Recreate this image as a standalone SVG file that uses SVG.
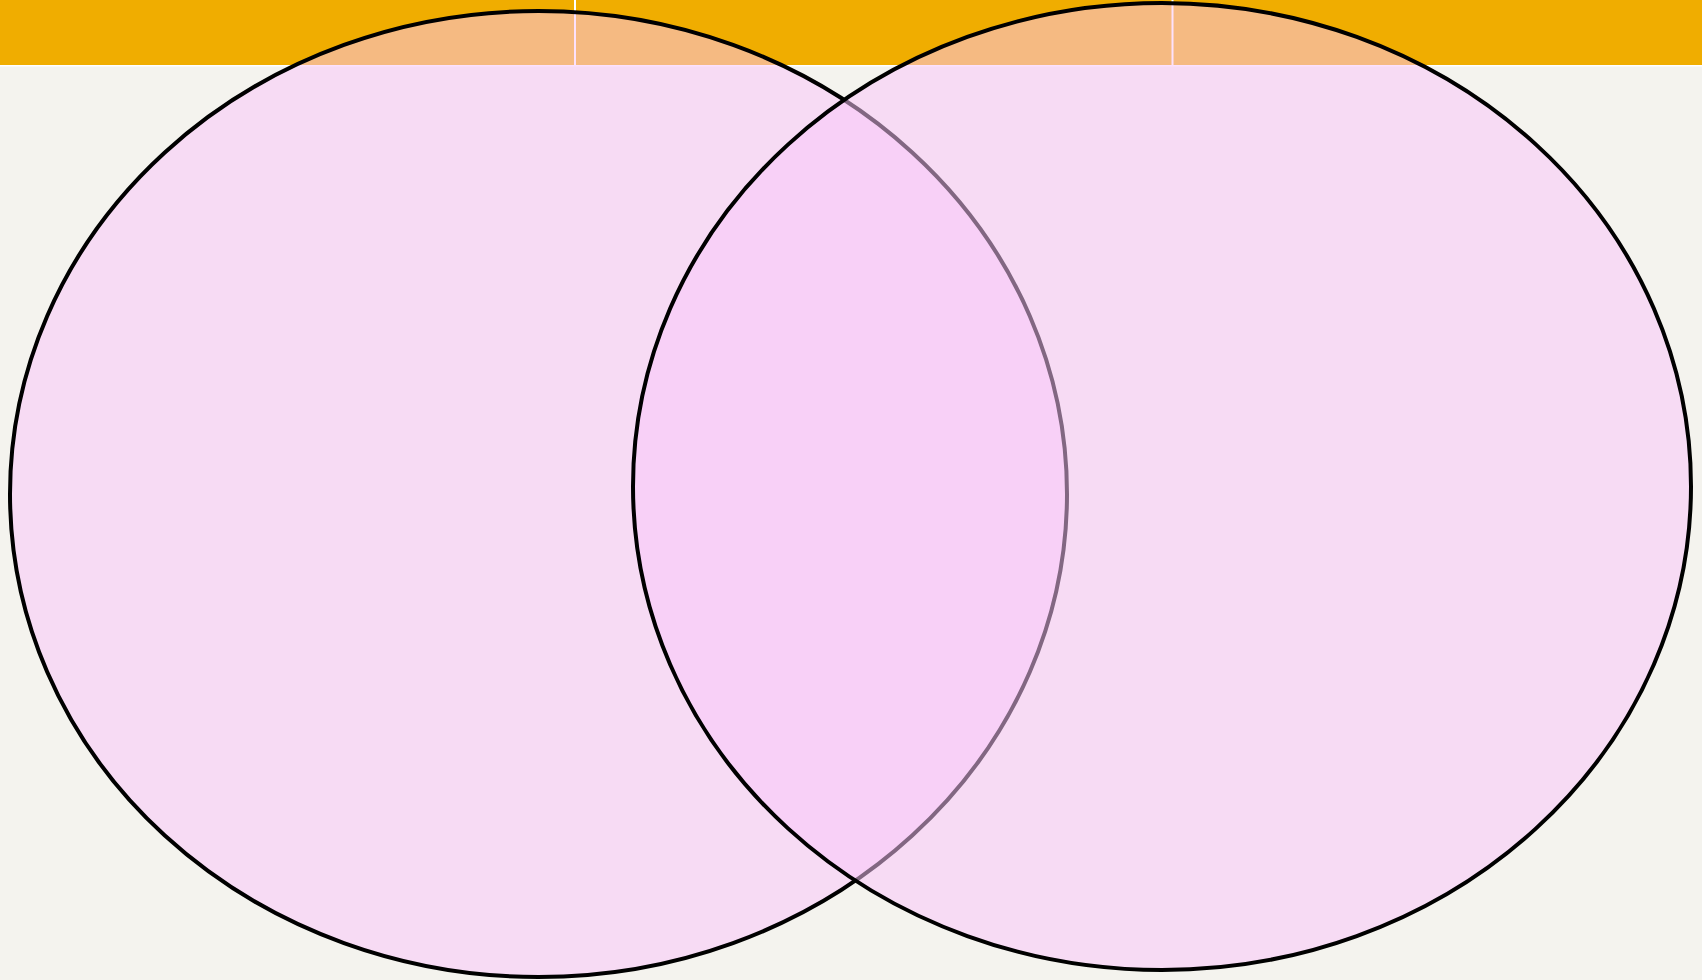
<svg xmlns="http://www.w3.org/2000/svg" width="1702" height="980" viewBox="0 0 1702 980">
  <style>
    .set { fill: #FAC6F9; fill-opacity: 0.52; stroke: #000000; stroke-width: 4; }
    .divider { fill: #FFFFFF; }
  </style>
  <rect x="0" y="0" width="1702" height="980" fill="#F4F3EE"/>
  <g id="header">
    <rect x="0" y="0" width="1702" height="65" fill="#F0AD00"/>
    <rect class="divider" x="0" y="65" width="1702" height="1.5"/>
    <rect class="divider" x="574" y="0" width="2" height="65"/>
    <rect class="divider" x="1171.5" y="0" width="2" height="65"/>
  </g>
  <g id="set-left">
    <ellipse class="set" cx="538.5" cy="494" rx="528.5" ry="483"/>
  </g>
  <g id="set-right">
    <ellipse class="set" cx="1162" cy="486.5" rx="529" ry="483.5"/>
  </g>
  <g id="connectors"></g>
</svg>
